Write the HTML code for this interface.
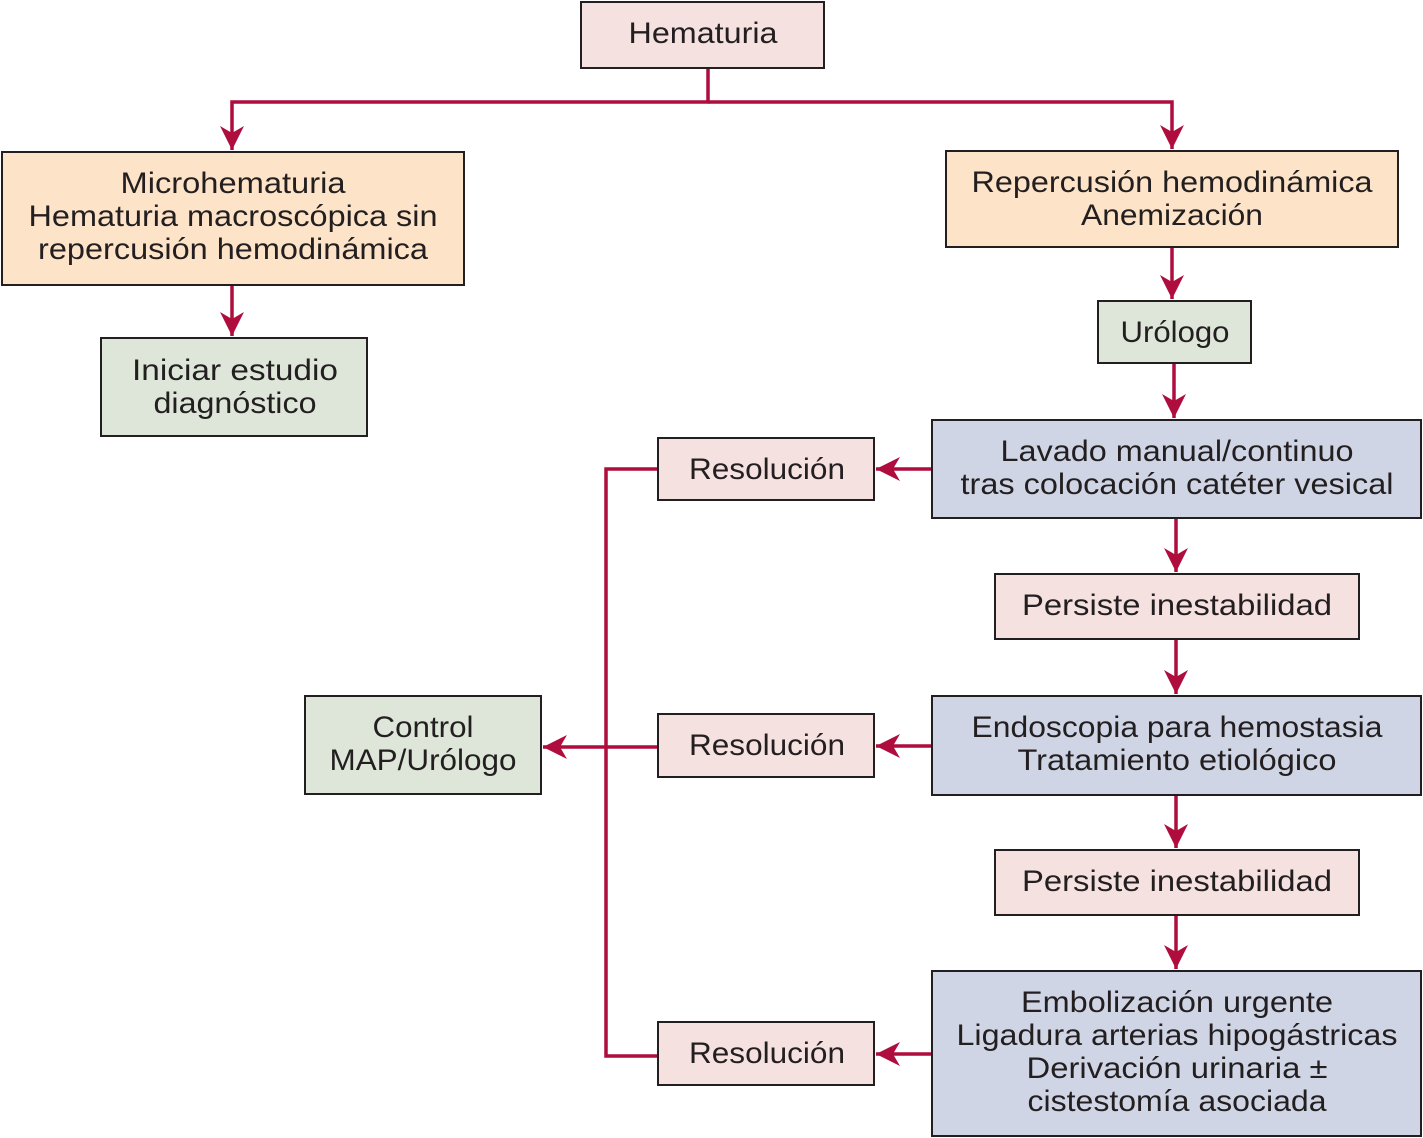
<!DOCTYPE html>
<html><head><meta charset="utf-8"><style>html,body{margin:0;padding:0;background:#fff}svg{display:block}</style></head>
<body>
<svg width="1423" height="1138" viewBox="0 0 1423 1138" xmlns="http://www.w3.org/2000/svg" font-family="Liberation Sans, sans-serif" font-size="30" fill="#231f20">
<defs>
<marker id="a" markerUnits="userSpaceOnUse" markerWidth="26" markerHeight="24" refX="24" refY="12" orient="auto">
<path d="M0,0 L24,12 L0,24 L7,12 z" fill="#ae0d3d"/>
</marker>
</defs>
<g stroke="#ae0d3d" stroke-width="3.5" fill="none">
<polyline points="708,68 708,102 232,102 232,150" marker-end="url(#a)"/>
<polyline points="708,102 1172,102 1172,149" marker-end="url(#a)"/>
<line x1="232" y1="285" x2="232" y2="336" marker-end="url(#a)"/>
<line x1="1172" y1="247" x2="1172" y2="299" marker-end="url(#a)"/>
<line x1="1174" y1="363" x2="1174" y2="418" marker-end="url(#a)"/>
<line x1="1176" y1="518" x2="1176" y2="572" marker-end="url(#a)"/>
<line x1="1176" y1="639" x2="1176" y2="694" marker-end="url(#a)"/>
<line x1="1176" y1="795" x2="1176" y2="848" marker-end="url(#a)"/>
<line x1="1176" y1="915" x2="1176" y2="969" marker-end="url(#a)"/>
<line x1="932" y1="469" x2="876" y2="469" marker-end="url(#a)"/>
<line x1="932" y1="746" x2="876" y2="746" marker-end="url(#a)"/>
<line x1="932" y1="1054" x2="876" y2="1054" marker-end="url(#a)"/>
<polyline points="658,469 606,469 606,1056 658,1056"/>
<line x1="658" y1="747" x2="606" y2="747"/>
<line x1="606" y1="747" x2="543" y2="747" marker-end="url(#a)"/>
</g>
<g stroke="#231f20" stroke-width="2">
<rect x="581" y="2" width="243" height="66" fill="#f5e1df"/>
<rect x="2" y="152" width="462" height="133" fill="#fde3c8"/>
<rect x="946" y="151" width="452" height="96" fill="#fde3c8"/>
<rect x="101" y="338" width="266" height="98" fill="#dde6d8"/>
<rect x="1098" y="301" width="153" height="62" fill="#dde6d8"/>
<rect x="932" y="420" width="489" height="98" fill="#cfd5e5"/>
<rect x="658" y="438" width="216" height="62" fill="#f5e1df"/>
<rect x="995" y="574" width="364" height="65" fill="#f5e1df"/>
<rect x="932" y="696" width="489" height="99" fill="#cfd5e5"/>
<rect x="658" y="714" width="216" height="63" fill="#f5e1df"/>
<rect x="995" y="850" width="364" height="65" fill="#f5e1df"/>
<rect x="932" y="971" width="489" height="165" fill="#cfd5e5"/>
<rect x="658" y="1022" width="216" height="63" fill="#f5e1df"/>
<rect x="305" y="696" width="236" height="98" fill="#dde6d8"/>
</g>
<g text-anchor="middle" lengthAdjust="spacingAndGlyphs">
<text x="703" y="43" textLength="149" lengthAdjust="spacingAndGlyphs">Hematuria</text>
<text x="233" y="193" textLength="225" lengthAdjust="spacingAndGlyphs">Microhematuria</text>
<text x="233" y="226" textLength="409" lengthAdjust="spacingAndGlyphs">Hematuria macroscópica sin</text>
<text x="233" y="259" textLength="390" lengthAdjust="spacingAndGlyphs">repercusión hemodinámica</text>
<text x="1172" y="192" textLength="401" lengthAdjust="spacingAndGlyphs">Repercusión hemodinámica</text>
<text x="1172" y="225" textLength="182" lengthAdjust="spacingAndGlyphs">Anemización</text>
<text x="235" y="380" textLength="206" lengthAdjust="spacingAndGlyphs">Iniciar estudio</text>
<text x="235" y="413" textLength="163" lengthAdjust="spacingAndGlyphs">diagnóstico</text>
<text x="1175" y="342" textLength="109" lengthAdjust="spacingAndGlyphs">Urólogo</text>
<text x="1177" y="461" textLength="353" lengthAdjust="spacingAndGlyphs">Lavado manual/continuo</text>
<text x="1177" y="494" textLength="433" lengthAdjust="spacingAndGlyphs">tras colocación catéter vesical</text>
<text x="767" y="479" textLength="156" lengthAdjust="spacingAndGlyphs">Resolución</text>
<text x="1177" y="615" textLength="310" lengthAdjust="spacingAndGlyphs">Persiste inestabilidad</text>
<text x="1177" y="737" textLength="411" lengthAdjust="spacingAndGlyphs">Endoscopia para hemostasia</text>
<text x="1177" y="770" textLength="319" lengthAdjust="spacingAndGlyphs">Tratamiento etiológico</text>
<text x="767" y="755" textLength="156" lengthAdjust="spacingAndGlyphs">Resolución</text>
<text x="1177" y="891" textLength="310" lengthAdjust="spacingAndGlyphs">Persiste inestabilidad</text>
<text x="1177" y="1012" textLength="312" lengthAdjust="spacingAndGlyphs">Embolización urgente</text>
<text x="1177" y="1045" textLength="441" lengthAdjust="spacingAndGlyphs">Ligadura arterias hipogástricas</text>
<text x="1177" y="1078" textLength="301" lengthAdjust="spacingAndGlyphs">Derivación urinaria ±</text>
<text x="1177" y="1111" textLength="299" lengthAdjust="spacingAndGlyphs">cistestomía asociada</text>
<text x="767" y="1063" textLength="156" lengthAdjust="spacingAndGlyphs">Resolución</text>
<text x="423" y="737" textLength="101" lengthAdjust="spacingAndGlyphs">Control</text>
<text x="423" y="770" textLength="187" lengthAdjust="spacingAndGlyphs">MAP/Urólogo</text>
</g>
</svg>
</body></html>
